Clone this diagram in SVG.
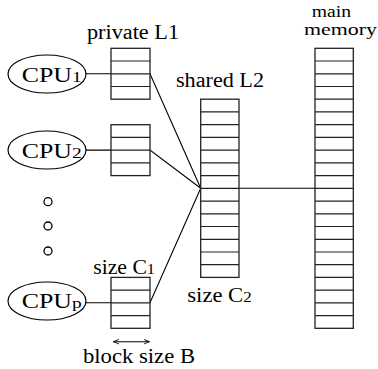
<svg xmlns="http://www.w3.org/2000/svg" width="378" height="369" viewBox="0 0 378 369">
<defs>
<style>
.box{fill:#fff;stroke:#222;stroke-width:1.3}
.row{fill:none;stroke:#222;stroke-width:1.2}
.cpu{fill:#fff;stroke:#000;stroke-width:1.2}
.ln{fill:none;stroke:#000;stroke-width:1.1}
.dot{fill:none;stroke:#000;stroke-width:1.3}
text{fill:#000}
</style>
<marker id="ah" viewBox="0 0 10 10" refX="10" refY="5" markerWidth="6" markerHeight="6" orient="auto-start-reverse" markerUnits="userSpaceOnUse">
<path d="M0,1 L10,5 L0,9" fill="none" stroke="#000" stroke-width="1.4"/>
</marker>
</defs>
<rect width="378" height="369" fill="#fff"/>

<g id="connectors">
<path class="ln" d="M86,73.8 H150 L200.7,188.3"/>
<path class="ln" d="M86,150.1 H150 L200.7,188.3"/>
<path class="ln" d="M86,302.8 H150 L200.7,188.3"/>
<path class="ln" d="M200.7,188.3 H315"/>
</g>

<g id="cpu1">
<ellipse class="cpu" cx="47" cy="74" rx="39" ry="19"/>
<text style="font-family:'Liberation Serif','Times New Roman',serif;font-size:20px" x="21.7" y="81.7" textLength="60" lengthAdjust="spacingAndGlyphs">CPU<tspan style="font-size:15px">1</tspan></text>
</g>
<g id="cpu2">
<ellipse class="cpu" cx="47" cy="150" rx="39" ry="19"/>
<text style="font-family:'Liberation Serif','Times New Roman',serif;font-size:20px" x="21.7" y="158" textLength="60" lengthAdjust="spacingAndGlyphs">CPU<tspan style="font-size:15px">2</tspan></text>
</g>
<g id="dots">
<circle class="dot" cx="48" cy="201.7" r="4"/>
<circle class="dot" cx="48" cy="226" r="4"/>
<circle class="dot" cx="48" cy="251" r="4"/>
</g>
<g id="cpup">
<ellipse class="cpu" cx="47" cy="301" rx="39" ry="19"/>
<text style="font-family:'Liberation Serif','Times New Roman',serif;font-size:20px" x="21.7" y="308" textLength="60" lengthAdjust="spacingAndGlyphs">CPU<tspan style="font-size:15px">p</tspan></text>
</g>

<g id="l1-1">
<rect class="box" x="111" y="48.3" width="39" height="50.9"/>
<path class="row" d="M111,61 H150 M111,73.8 H150 M111,86.5 H150"/>
</g>
<g id="l1-2">
<rect class="box" x="111" y="124.7" width="39" height="50.9"/>
<path class="row" d="M111,137.4 H150 M111,150.1 H150 M111,162.9 H150"/>
</g>
<g id="l1-p">
<rect class="box" x="111" y="277.4" width="39" height="50.9"/>
<path class="row" d="M111,290.1 H150 M111,302.8 H150 M111,315.6 H150"/>
</g>

<g id="l2">
<rect class="box" x="200.7" y="99.2" width="38.3" height="178.2"/>
<path class="row" d="M200.7,111.9 H239 M200.7,124.7 H239 M200.7,137.4 H239 M200.7,150.1 H239 M200.7,162.9 H239 M200.7,175.6 H239 M200.7,188.3 H239 M200.7,201.1 H239 M200.7,213.8 H239 M200.7,226.5 H239 M200.7,239.3 H239 M200.7,252 H239 M200.7,264.7 H239"/>
</g>

<g id="main-memory">
<rect class="box" x="315" y="48.3" width="38.3" height="280"/>
<path class="row" d="M315,61 H353.3 M315,73.8 H353.3 M315,86.5 H353.3 M315,99.2 H353.3 M315,111.9 H353.3 M315,124.7 H353.3 M315,137.4 H353.3 M315,150.1 H353.3 M315,162.9 H353.3 M315,175.6 H353.3 M315,188.3 H353.3 M315,201.1 H353.3 M315,213.8 H353.3 M315,226.5 H353.3 M315,239.3 H353.3 M315,252 H353.3 M315,264.7 H353.3 M315,277.4 H353.3 M315,290.1 H353.3 M315,302.8 H353.3 M315,315.6 H353.3"/>
</g>

<g id="labels">
<text style="font-family:'Liberation Serif','Times New Roman',serif;font-size:20px" x="87" y="39" textLength="92" lengthAdjust="spacingAndGlyphs">private L1</text>
<text style="font-family:'Liberation Serif','Times New Roman',serif;font-size:20px" x="176" y="87" textLength="88" lengthAdjust="spacingAndGlyphs">shared L2</text>
<text style="font-family:'Liberation Serif','Times New Roman',serif;font-size:16px" x="311.7" y="16.5" textLength="39.3" lengthAdjust="spacingAndGlyphs">main</text>
<text style="font-family:'Liberation Serif','Times New Roman',serif;font-size:16px" x="304" y="35" textLength="73" lengthAdjust="spacingAndGlyphs">memory</text>
<text style="font-family:'Liberation Serif','Times New Roman',serif;font-size:20px" x="93.3" y="274" textLength="61.7" lengthAdjust="spacingAndGlyphs">size C<tspan style="font-size:15px">1</tspan></text>
<text style="font-family:'Liberation Serif','Times New Roman',serif;font-size:20px" x="187.3" y="302" textLength="64.4" lengthAdjust="spacingAndGlyphs">size C<tspan style="font-size:15px">2</tspan></text>
<text style="font-family:'Liberation Serif','Times New Roman',serif;font-size:20px" x="83" y="363" textLength="112" lengthAdjust="spacingAndGlyphs">block size B</text>
</g>

<g id="block-arrow">
<line class="ln" x1="113.3" y1="341.7" x2="149.5" y2="341.7" marker-start="url(#ah)" marker-end="url(#ah)"/>
</g>
</svg>
